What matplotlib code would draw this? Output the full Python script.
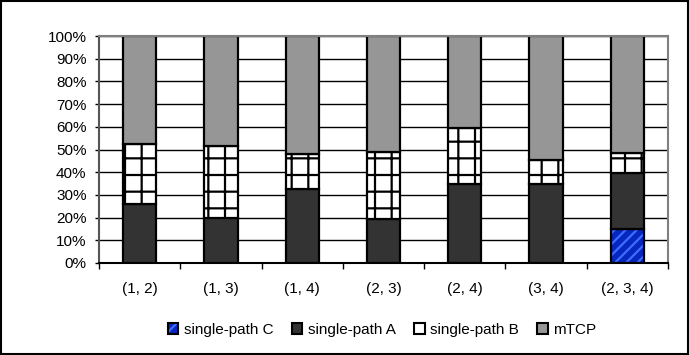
import numpy as np
import matplotlib.pyplot as plt
from matplotlib.patches import Patch, Rectangle
from matplotlib.legend_handler import HandlerTuple

plt.rcParams['font.family'] = ['Liberation Sans', 'DejaVu Sans']
plt.rcParams['hatch.linewidth'] = 1.6

# data (percent of total)
labels = ['(1, 2)', '(1, 3)', '(1, 4)', '(2, 3)', '(2, 4)', '(3, 4)', '(2, 3, 4)']
path_c = [0, 0, 0, 0, 0, 0, 15]
path_a = [26, 20, 32.5, 19.5, 35, 35, 24.5]
path_b = [26.5, 31.5, 15.5, 29.5, 24.5, 10.5, 9]
mtcp = [47.5, 48.5, 52, 51, 40.5, 54.5, 51.5]

col_c = '#0626c0'
col_c_stripe = '#3d6dff'
col_a = '#333333'
col_b = 'white'
col_m = '#969696'
fs = 11

fig = plt.figure(figsize=(6.89, 3.55), dpi=100)
ax = fig.add_axes([99 / 689, 1 - 263 / 355, 569 / 689, 227 / 355])

x = np.arange(len(labels))
w = 0.41
c = np.array(path_c)
a = np.array(path_a)
b = np.array(path_b)
m = np.array(mtcp)

# single-path C: striped fill, then black outline on top
ax.bar(x, c, w, color=col_c, edgecolor=col_c_stripe, linewidth=0, hatch='///', zorder=2)
ax.bar(x, c, w, fill=False, edgecolor='black', linewidth=1.6, zorder=3)
ax.bar(x, a, w, bottom=c, color=col_a, edgecolor='black', linewidth=1.6, zorder=3)
ax.bar(x, b, w, bottom=c + a, color=col_b, edgecolor='black', linewidth=1.6, hatch='+', zorder=3)
ax.bar(x, m, w, bottom=c + a + b, color=col_m, edgecolor='black', linewidth=1.6, zorder=3)

ax.set_xlim(-0.5, len(labels) - 0.5)
ax.set_ylim(0, 100)
ax.set_yticks(np.arange(0, 101, 10))
ax.set_yticklabels([f'{v}%' for v in range(0, 101, 10)], fontsize=fs)
ax.yaxis.grid(True, color='black', linewidth=1)
ax.set_axisbelow(True)

# category boundaries get the tick marks, centres get the labels
ax.set_xticks(np.arange(-0.5, len(labels), 1.0))
ax.set_xticklabels([])
ax.set_xticks(x, minor=True)
ax.set_xticklabels(labels, minor=True, fontsize=fs)
ax.tick_params(axis='x', which='major', direction='out', length=4, width=1, color='black')
ax.tick_params(axis='x', which='minor', length=0, pad=14)
ax.tick_params(axis='y', direction='out', length=3, width=1, pad=6)

ax.spines['top'].set_color('#808080')
ax.spines['right'].set_color('#808080')
ax.spines['left'].set_color('#555555')
ax.spines['bottom'].set_color('black')
for s in ax.spines.values():
    s.set_linewidth(1.5)
    s.set_zorder(4)

# legend
h_c = (Patch(facecolor=col_c, edgecolor=col_c_stripe, hatch='///', linewidth=0),
       Patch(fill=False, edgecolor='black', linewidth=1.5))
h_a = Patch(facecolor=col_a, edgecolor='black', linewidth=1.5)
h_b = Patch(facecolor=col_b, edgecolor='black', linewidth=1.5)
h_m = Patch(facecolor=col_m, edgecolor='black', linewidth=1.5)
fig.legend([h_c, h_a, h_b, h_m],
           ['single-path C', 'single-path A', 'single-path B', 'mTCP'],
           handler_map={tuple: HandlerTuple(ndivide=1)},
           loc='center', bbox_to_anchor=(382 / 689, 1 - 330 / 355), ncol=4,
           frameon=False, fontsize=fs, handlelength=0.7, handleheight=0.7,
           handletextpad=0.35, columnspacing=1.2, borderpad=0)

# outer chart border
fig.patches.append(Rectangle((0.001, 0.002), 0.997, 0.996, transform=fig.transFigure,
                             fill=False, edgecolor='black', linewidth=1.5))

fig.savefig('out.png', dpi=100)
